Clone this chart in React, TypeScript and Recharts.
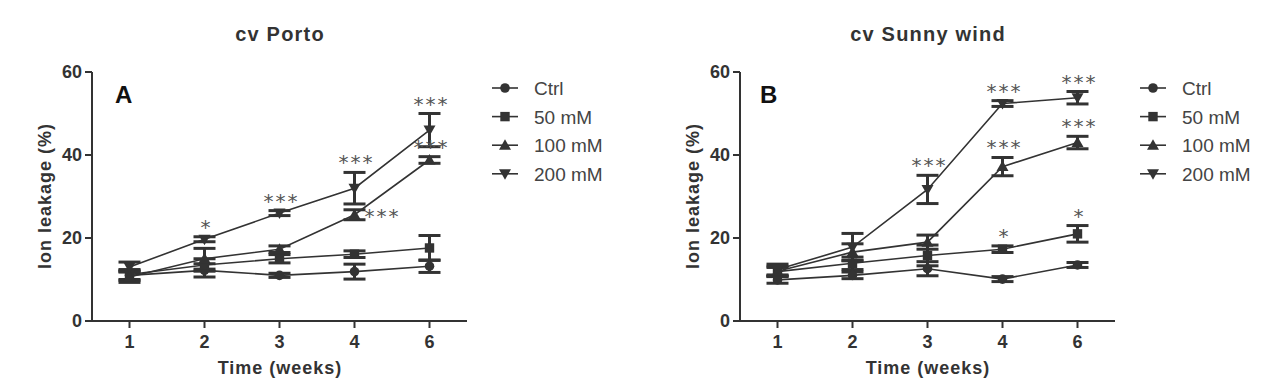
import { LineChart, Line, XAxis, YAxis, ErrorBar, LabelList } from 'recharts';

const weeks = ['1', '2', '3', '4', '6'];
const yTicks = [0, 20, 40, 60];

// cv Porto
const portoCtrl = [11.0, 12.2, 11.0, 11.9, 13.2];
const portoCtrlErr = [1.2, 1.6, 0.5, 1.8, 1.5];
const porto50 = [11.2, 13.5, 15.0, 16.1, 17.6];
const porto50Err = [1.2, 1.5, 1.0, 0.8, 3.0];
const porto100 = [10.6, 15.0, 17.3, 25.6, 38.8];
const porto100Err = [1.3, 2.5, 0.8, 1.2, 0.8];
const porto200 = [13.0, 19.7, 26.0, 32.0, 46.0];
const porto200Err = [1.2, 0.6, 0.6, 3.8, 4.0];
const porto100Stars = ['', '', '', '***', '***'];
const porto200Stars = ['', '*', '***', '***', '***'];

// cv Sunny wind
const sunnyCtrl = [9.9, 11.0, 12.6, 10.1, 13.5];
const sunnyCtrlErr = [0.8, 0.8, 1.7, 0.6, 0.6];
const sunny50 = [11.9, 13.9, 15.8, 17.3, 21.0];
const sunny50Err = [1.0, 1.5, 2.5, 0.8, 2.0];
const sunny100 = [12.0, 16.6, 19.0, 37.2, 43.0];
const sunny100Err = [1.2, 2.0, 1.7, 2.2, 1.5];
const sunny200 = [12.4, 17.8, 31.7, 52.4, 53.8];
const sunny200Err = [1.3, 3.3, 3.4, 0.7, 1.5];
const sunny50Stars = ['', '', '', '*', '*'];
const sunny100Stars = ['', '', '', '***', '***'];
const sunny200Stars = ['', '', '***', '***', '***'];

const seriesNames = ['Ctrl', '50 mM', '100 mM', '200 mM'];
const seriesKeys = ['ctrl', 'c50', 'c100', 'c200'];
const markers = ['circle', 'square', 'up', 'down'];

const FONT = '"Liberation Sans", Arial, sans-serif';
const STAR_FONT = '"DejaVu Sans", sans-serif';
const INK = '#333';

const PLOT_TOP = 72;
const PLOT_H = 249;
const Y_MAX = 60;

function buildRows(vals: number[][], errs: number[][], stars: string[][]) {
  return weeks.map((w, i) => {
    const row: any = { week: w };
    seriesKeys.forEach((k, s) => {
      row[k] = vals[s][i];
      row[k + 'Err'] = errs[s][i];
      row[k + 'Stars'] = stars[s][i];
    });
    return row;
  });
}

const portoData = buildRows(
  [portoCtrl, porto50, porto100, porto200],
  [portoCtrlErr, porto50Err, porto100Err, porto200Err],
  [[], [], porto100Stars, porto200Stars]
);
const sunnyData = buildRows(
  [sunnyCtrl, sunny50, sunny100, sunny200],
  [sunnyCtrlErr, sunny50Err, sunny100Err, sunny200Err],
  [[], sunny50Stars, sunny100Stars, sunny200Stars]
);

function Marker({ kind, cx, cy }: { kind: string; cx: number; cy: number }) {
  if (cx == null || cy == null) return null;
  if (kind === 'circle') return <circle cx={cx} cy={cy} r={4.8} fill={INK} />;
  if (kind === 'square') return <rect x={cx - 4.7} y={cy - 4.7} width={9.4} height={9.4} fill={INK} />;
  if (kind === 'up')
    return <polygon points={`${cx},${cy - 6} ${cx - 6},${cy + 4.5} ${cx + 6},${cy + 4.5}`} fill={INK} />;
  return <polygon points={`${cx},${cy + 6} ${cx - 6},${cy - 4.5} ${cx + 6},${cy - 4.5}`} fill={INK} />;
}

function starContent(errs: number[], sideIndex: number) {
  return (props: any) => {
    const { x, y, value, index } = props;
    if (!value || x == null || y == null) return null;
    const style = { fontFamily: STAR_FONT, fontSize: 20, fill: '#555', letterSpacing: 2 };
    if (index === sideIndex) {
      return (
        <text x={x + 10} y={y + 8} textAnchor="start" style={style}>
          {value}
        </text>
      );
    }
    const top = y - (errs[index] * PLOT_H) / Y_MAX;
    return (
      <text x={x + 2} y={top - 3} textAnchor="middle" style={style}>
        {value}
      </text>
    );
  };
}

interface PanelProps {
  left: number;
  title: string;
  letter: string;
  data: any[];
  errs: number[][];
  side?: { key: string; index: number };
}

function Panel({ left, title, letter, data, errs, side }: PanelProps) {
  return (
    <div style={{ position: 'absolute', left, top: 0, width: 640, height: 381 }}>
      <LineChart
        width={640}
        height={381}
        data={data}
        margin={{ top: PLOT_TOP, right: 173, bottom: 0, left: 32 }}
        style={{ fontFamily: FONT }}
      >
        <XAxis
          dataKey="week"
          type="category"
          padding={{ left: 37.5, right: 37.5 }}
          height={60}
          tickSize={7}
          tickMargin={7}
          axisLine={{ stroke: INK, strokeWidth: 2 }}
          tickLine={{ stroke: INK, strokeWidth: 2 }}
          tick={{ fontSize: 18, fontWeight: 'bold', fill: INK }}
        />
        <YAxis
          domain={[0, Y_MAX]}
          ticks={yTicks}
          allowDataOverflow
          width={60}
          tickSize={7}
          tickMargin={3}
          axisLine={{ stroke: INK, strokeWidth: 2 }}
          tickLine={{ stroke: INK, strokeWidth: 2 }}
          tick={{ fontSize: 18, fontWeight: 'bold', fill: INK }}
        />
        {seriesKeys.map((k, s) => (
          <Line
            key={k}
            dataKey={k}
            name={seriesNames[s]}
            stroke={INK}
            strokeWidth={1.6}
            isAnimationActive={false}
            dot={(p: any) => <Marker key={`${k}-${p.index}`} kind={markers[s]} cx={p.cx} cy={p.cy} />}
            activeDot={false}
          >
            <ErrorBar dataKey={k + 'Err'} direction="y" width={11} stroke={INK} strokeWidth={3} />
            <LabelList
              dataKey={k + 'Stars'}
              content={starContent(errs[s], side && side.key === k ? side.index : -1)}
            />
          </Line>
        ))}
      </LineChart>
      <svg
        width={640}
        height={381}
        style={{ position: 'absolute', left: 0, top: 0, pointerEvents: 'none', fontFamily: FONT }}
      >
        <text x={280} y={41} textAnchor="middle" fontSize={20} fontWeight="bold" fill={INK} letterSpacing={1.2}>
          {title}
        </text>
        <text x={letter === 'A' ? 115 : 112} y={103} fontSize={24} fontWeight="bold" fill="#111">
          {letter}
        </text>
        <text
          x={51}
          y={196}
          textAnchor="middle"
          fontSize={18}
          fontWeight="bold"
          fill={INK}
          letterSpacing={1}
          transform="rotate(-90 51 196)"
        >
          Ion leakage (%)
        </text>
        <text x={280} y={374} textAnchor="middle" fontSize={18} fontWeight="bold" fill={INK} letterSpacing={1}>
          Time (weeks)
        </text>
        {seriesNames.map((n, s) => {
          const ry = 88 + s * 28.6;
          return (
            <g key={n}>
              <line x1={492} x2={518} y1={ry} y2={ry} stroke={INK} strokeWidth={1.6} />
              <Marker kind={markers[s]} cx={505} cy={ry} />
              <text x={534} y={ry + 7} fontSize={19} fill="#444">
                {n}
              </text>
            </g>
          );
        })}
      </svg>
    </div>
  );
}

export default function App() {
  return (
    <div style={{ position: 'absolute', left: 0, top: 0, width: 1267, height: 381, background: '#fff' }}>
      <Panel
        left={0}
        title="cv Porto"
        letter="A"
        data={portoData}
        errs={[portoCtrlErr, porto50Err, porto100Err, porto200Err]}
        side={{ key: 'c100', index: 3 }}
      />
      <Panel
        left={648}
        title="cv Sunny wind"
        letter="B"
        data={sunnyData}
        errs={[sunnyCtrlErr, sunny50Err, sunny100Err, sunny200Err]}
      />
    </div>
  );
}
